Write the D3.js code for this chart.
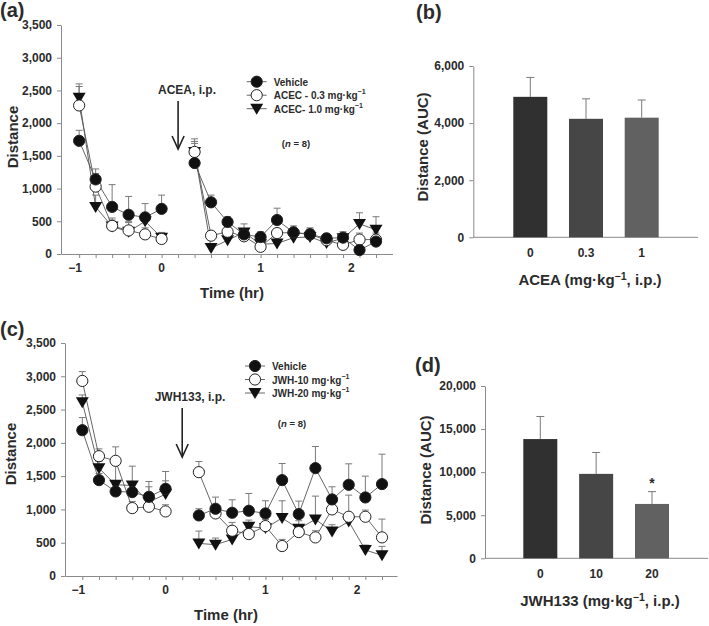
<!DOCTYPE html>
<html>
<head>
<meta charset="utf-8">
<script src="https://cdn.jsdelivr.net/npm/d3@7"></script>
<style>
body { margin: 0; background: #fff; }
text { font-family: Arial, "Liberation Sans", sans-serif; font-weight: bold; fill: #2b2b2b; }
</style>
</head>
<body>
<div id="graph"></div>
<script>
// time slots (sample index, 0 = -1 h); slot 6 is the injection gap
var slots = [0, 1, 2, 3, 4, 5, 7, 8, 9, 10, 11, 12, 13, 14, 15, 16, 17, 18];
var xTickLabels = ["\u22121", "0", "1", "2"];
var xTickSlots = [0, 5, 11, 16.5];
var yTicksLine = [0, 500, 1000, 1500, 2000, 2500, 3000, 3500];

// panel a - ACEA
var aVehicle = [1730, 1140, 720, 600, 560, 690, 1390, 790, 490, 300, 260, 520, 330, 300, 240, 250, 60, 190];
var aVehicleErr = [160, 160, 340, 280, 210, 210, 300, 110, 80, 80, 80, 180, 100, 80, 60, 60, 60, 60];
var aLow = [2270, 1030, 430, 360, 300, 230, 1560, 280, 340, 270, 110, 320, 330, 300, 210, 140, 220, 220];
var aLowErr = [290, 200, 120, 120, 100, 100, 160, 60, 60, 60, 60, 60, 60, 100, 100, 100, 100, 100];
var aHigh = [2390, 720, 420, 340, 500, 250, 1560, 90, 210, 330, 150, 160, 250, 260, 170, 240, 460, 370];
var aHighErr = [210, 180, 100, 160, 120, 60, 200, 60, 60, 130, 70, 60, 60, 60, 60, 100, 170, 200];
var aNames = ["Vehicle", "ACEC - 0.3 mg\u00b7kg", "ACEC- 1.0 mg\u00b7kg"];

// panel c - JWH133
var cVehicle = [2190, 1440, 1270, 1260, 1190, 1310, 910, 1010, 950, 980, 940, 1440, 930, 1620, 1150, 1370, 1180, 1380];
var cVehicleErr = [190, 100, 100, 120, 230, 260, 100, 175, 195, 260, 190, 250, 195, 325, 190, 315, 320, 450];
var cLow = [2930, 1800, 1730, 1020, 1040, 970, 1560, 940, 680, 630, 750, 450, 660, 580, 1000, 890, 890, 580];
var cLowErr = [140, 110, 210, 100, 100, 100, 160, 100, 125, 100, 100, 100, 100, 100, 150, 325, 100, 275];
var cHigh = [2610, 1620, 1370, 1360, 1110, 1230, 490, 470, 550, 740, 720, 870, 710, 850, 670, 820, 390, 310];
var cHighErr = [110, 100, 300, 290, 230, 200, 185, 100, 100, 100, 100, 260, 120, 350, 100, 100, 75, 135];
var cNames = ["Vehicle", "JWH-10 mg\u00b7kg", "JWH-20 mg\u00b7kg"];

// panel b and d - AUC
var bDoses = ["0", "0.3", "1"];
var bAuc = [4920, 4150, 4190];
var bAucErr = [680, 700, 620];
var bTicks = [0, 2000, 4000, 6000];
var dDoses = ["0", "10", "20"];
var dAuc = [13840, 9800, 6310];
var dAucErr = [2620, 2480, 1430];
var dTicks = [0, 5000, 10000, 15000, 20000];
var barColors = ["#303030", "#464646", "#616161"];

var svg = d3.select("#graph").append("svg").attr("width", 709).attr("height", 626);

function styleAxis(g) {
  g.select(".domain").attr("stroke", "#8a8a8a");
  g.selectAll(".tick line").attr("stroke", "#8a8a8a");
  g.selectAll(".tick text").style("font-size", "12px").attr("fill", "#2b2b2b");
}

function marker(sel, kind) {
  if (kind == "tri") {
    sel.append("path").attr("d", "M-6.5,-5L6.5,-5L0,6Z").attr("fill", "#111");
  } else {
    sel.append("circle").attr("r", 5.6)
      .attr("fill", kind == "open" ? "#fff" : "#111")
      .attr("stroke", "#222").attr("stroke-width", 1);
  }
}

function supText(t, base, sup, tail) {
  t.append("tspan").text(base);
  t.append("tspan").text("\u22121").attr("dy", -5).style("font-size", "0.7em");
  if (tail) t.append("tspan").text(tail).attr("dy", 5);
}

function linePanel(o) {
  var x = d3.scaleLinear().domain(o.dom).range([o.left, o.right]);
  var y = d3.scaleLinear().domain([0, 3500]).range([o.bottom, o.top]);
  var g = svg.append("g");

  g.append("g").attr("transform", "translate(0," + o.bottom + ")")
    .call(d3.axisBottom(x).tickValues(d3.range(0, 19)).tickFormat("").tickSize(4).tickSizeOuter(0))
    .call(styleAxis);
  g.append("g").attr("transform", "translate(" + o.left + ",0)")
    .call(d3.axisLeft(y).tickValues(yTicksLine).tickFormat(d3.format(",")).tickSize(4).tickPadding(5).tickSizeOuter(0))
    .call(styleAxis);

  g.selectAll(".xl").data(xTickLabels).enter().append("text")
    .attr("x", function(d, i) { return x(xTickSlots[i]) + (i == 0 ? -4 : 0); })
    .attr("y", o.bottom + 18).attr("text-anchor", "middle").style("font-size", "12px")
    .text(function(d) { return d; });

  g.append("text").attr("x", o.timeX).attr("y", o.bottom + 44).attr("text-anchor", "middle")
    .style("font-size", "15px").text("Time (hr)");
  g.append("text").attr("transform", "translate(" + o.ytX + "," + o.ytY + ") rotate(-90)")
    .attr("text-anchor", "middle").style("font-size", "15px").text("Distance");

  var kinds = ["filled", "open", "tri"];
  // error bars first
  o.series.forEach(function(s, k) {
    var eg = g.append("g").attr("stroke", "#7a7a7a").attr("stroke-width", 1);
    s.vals.forEach(function(v, i) {
      var cx = x(slots[i]), top = y(v + s.errs[i]);
      eg.append("line").attr("x1", cx).attr("x2", cx).attr("y1", y(v)).attr("y2", top);
      eg.append("line").attr("x1", cx - 3.5).attr("x2", cx + 3.5).attr("y1", top).attr("y2", top);
    });
  });
  // lines, split at the injection gap
  var line = d3.line().x(function(d) { return x(d[0]); }).y(function(d) { return y(d[1]); });
  o.series.forEach(function(s) {
    var pts = s.vals.map(function(v, i) { return [slots[i], v]; });
    [pts.slice(0, 6), pts.slice(6)].forEach(function(p) {
      g.append("path").attr("d", line(p)).attr("fill", "none").attr("stroke", "#555").attr("stroke-width", 0.9);
    });
  });
  // markers, drawn so vehicle sits on top
  [2, 1, 0].forEach(function(k) {
    var s = o.series[k];
    s.vals.forEach(function(v, i) {
      var m = g.append("g").attr("transform", "translate(" + x(slots[i]) + "," + y(v) + ")");
      marker(m, kinds[k]);
    });
  });

  // legend
  o.names.forEach(function(n, k) {
    var ly = o.legY + k * 13.5;
    g.append("line").attr("x1", o.legX - 10).attr("x2", o.legX + 10).attr("y1", ly).attr("y2", ly)
      .attr("stroke", "#555").attr("stroke-width", 0.9);
    var m = g.append("g").attr("transform", "translate(" + o.legX + "," + ly + ")");
    marker(m, kinds[k]);
    var t = g.append("text").attr("x", o.legX + 17).attr("y", ly + 4).style("font-size", "10px");
    if (k == 0) t.text(n); else supText(t, n);
  });
  var nt = g.append("text").attr("x", o.nX).attr("y", o.nY).attr("text-anchor", "middle").style("font-size", "9.5px");
  nt.append("tspan").text("(");
  nt.append("tspan").text("n").style("font-style", "italic");
  nt.append("tspan").text(" = 8)");

  // injection arrow
  var ax = x(6);
  g.append("text").attr("x", o.arrowTextX).attr("y", o.arrowY0 - 7).attr("text-anchor", "middle")
    .style("font-size", "12px").text(o.drug);
  g.append("line").attr("x1", ax).attr("x2", ax).attr("y1", o.arrowY0).attr("y2", o.arrowY1)
    .attr("stroke", "#222").attr("stroke-width", 1.6);
  g.append("path").attr("d", "M" + (ax - 6) + "," + (o.arrowY1 - 13) + "L" + ax + "," + o.arrowY1 + "L" + (ax + 6) + "," + (o.arrowY1 - 13))
    .attr("fill", "none").attr("stroke", "#222").attr("stroke-width", 1.6);
}

function barPanel(o) {
  var x = d3.scalePoint().domain(o.cats).range([o.c0, o.c1]);
  var y = d3.scaleLinear().domain([0, o.max]).range([o.bottom, o.top]);
  var g = svg.append("g");
  g.append("g").attr("transform", "translate(" + o.left + ",0)")
    .call(d3.axisLeft(y).tickValues(o.ticks).tickFormat(d3.format(",")).tickSize(4).tickPadding(5).tickSizeOuter(0))
    .call(styleAxis);
  g.append("line").attr("x1", o.left).attr("x2", o.right).attr("y1", o.bottom).attr("y2", o.bottom)
    .attr("stroke", "#8a8a8a");

  o.vals.forEach(function(v, i) {
    var cx = x(o.cats[i]), top = y(v + o.errs[i]);
    g.append("line").attr("x1", cx).attr("x2", cx).attr("y1", y(v)).attr("y2", top).attr("stroke", "#7a7a7a");
    g.append("line").attr("x1", cx - 4).attr("x2", cx + 4).attr("y1", top).attr("y2", top).attr("stroke", "#7a7a7a");
  });
  g.selectAll(".bar").data(o.vals).enter().append("rect")
    .attr("x", function(d, i) { return x(o.cats[i]) - 17; })
    .attr("width", 34)
    .attr("y", function(d) { return y(d); })
    .attr("height", function(d) { return o.bottom - y(d); })
    .attr("fill", function(d, i) { return barColors[i]; });
  g.selectAll(".bl").data(o.cats).enter().append("text")
    .attr("x", function(d) { return x(d); }).attr("y", o.bottom + 20)
    .attr("text-anchor", "middle").style("font-size", "12px").text(function(d) { return d; });

  var t = g.append("text").attr("x", o.titleX).attr("y", o.bottom + 48).attr("text-anchor", "middle").style("font-size", "15px");
  supText(t, o.drug + " (mg\u00b7kg", "", ", i.p.)");
  g.append("text").attr("transform", "translate(" + o.ytX + "," + o.ytY + ") rotate(-90)")
    .attr("text-anchor", "middle").style("font-size", "15px").text("Distance (AUC)");
  if (o.star != null) {
    var sx = x(o.cats[o.star]);
    g.append("text").attr("x", sx).attr("y", y(o.vals[o.star] + o.errs[o.star]) - 4)
      .attr("text-anchor", "middle").style("font-size", "14px").text("*");
  }
}

linePanel({
  left: 61, right: 392.5, top: 25, bottom: 254, dom: [-1.1, 19],
  series: [{vals: aVehicle, errs: aVehicleErr}, {vals: aLow, errs: aLowErr}, {vals: aHigh, errs: aHighErr}],
  names: aNames, legX: 256.7, legY: 81.7, nX: 296, nY: 147,
  drug: "ACEA, i.p.", arrowTextX: 187, arrowY0: 101, arrowY1: 149,
  timeX: 232, ytX: 18, ytY: 137
});
linePanel({
  left: 65, right: 397, top: 343, bottom: 576, dom: [-1.04, 18.9],
  series: [{vals: cVehicle, errs: cVehicleErr}, {vals: cLow, errs: cLowErr}, {vals: cHigh, errs: cHighErr}],
  names: cNames, legX: 255, legY: 366, nX: 292, nY: 427,
  drug: "JWH133, i.p.", arrowTextX: 190, arrowY0: 408, arrowY1: 457,
  timeX: 226, ytX: 16, ytY: 454
});
barPanel({
  cats: bDoses, vals: bAuc, errs: bAucErr, ticks: bTicks, max: 6000,
  left: 473.3, right: 698, top: 66, bottom: 237.3, c0: 530.3, c1: 641.7,
  drug: "ACEA", titleX: 590, ytX: 428, ytY: 147, star: null
});
barPanel({
  cats: dDoses, vals: dAuc, errs: dAucErr, ticks: dTicks, max: 20000,
  left: 485, right: 708, top: 386, bottom: 558.3, c0: 540.3, c1: 652,
  drug: "JWH133", titleX: 600, ytX: 431, ytY: 470, star: 2
});

// panel letters
[["(a)", 0, 17], ["(b)", 416, 19], ["(c)", 0, 336], ["(d)", 415, 372]].forEach(function(p) {
  svg.append("text").attr("x", p[1]).attr("y", p[2]).style("font-size", "20px").attr("fill", "#111").text(p[0]);
});
</script>
</body>
</html>
